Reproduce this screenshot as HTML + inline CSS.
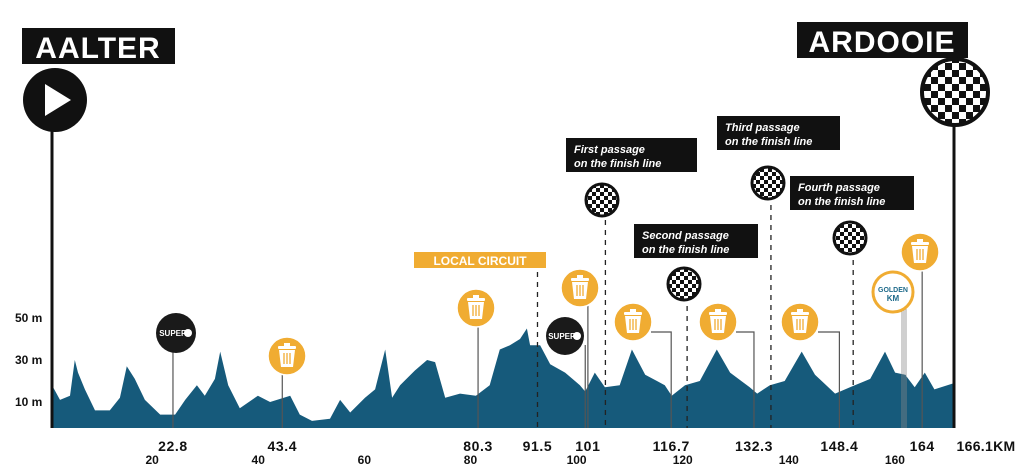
<!DOCTYPE html>
<html><head><meta charset="utf-8"><style>
body{margin:0;background:#fff;}
svg{display:block;font-family:"Liberation Sans",Arial,sans-serif;}
</style></head><body>
<svg id="c" width="1024" height="470" viewBox="0 0 1024 470">
<defs>
<pattern id="chk" width="8" height="8" patternUnits="userSpaceOnUse"><rect width="8" height="8" fill="#fff"/><rect width="4" height="4" fill="#111"/><rect x="4" y="4" width="4" height="4" fill="#111"/></pattern>
<pattern id="chk2" width="14" height="14" patternUnits="userSpaceOnUse"><rect width="14" height="14" fill="#fff"/><rect width="7" height="7" fill="#111"/><rect x="7" y="7" width="7" height="7" fill="#111"/></pattern>
</defs>
<g id="profile"></g>
<g id="marks"></g>
</svg>
<script>
const kms=[0,1.5,3.4,4.3,4.9,6.2,8.1,10.9,12.8,14.1,15.6,17.5,20.4,23.2,25.1,27.3,28.8,30.7,31.7,33.2,35.4,38.8,41.1,44.9,46.7,49,52.4,54.3,56.2,59,60.9,62.8,64.1,65.6,68.4,70.7,72.2,74.1,76.9,79.9,82.5,84.4,86.3,88.2,89.5,90.1,92,93.9,96.7,99.5,100.5,102.3,104.2,107,109.3,111.8,115.5,116.8,119.3,122.1,125.3,127.8,131.5,132.9,135.3,138.1,141.3,143.8,147.6,150.4,154.2,157,158.9,160.8,162.6,164.5,166.3,170];
const elev=[18,11,13,30,24,16,6,6,12,27,21,11,4,4,11,18,13,21,34,18,7,13,10,13,4,1,2,11,5,12,16,35,12,18,25,30,29,12,14,13,18,35,37,40,45,37,37,28,24,18,15,24,17,18,35,23,18,13,18,20,35,24,17,14,18,20,34,23,14,17,21,34,24,23,17,24,16,19];
const xTicks=[20,40,60,80,100,120,140,160];
const kmLabels=[22.8,43.4,80.3,91.5,101,116.7,132.3,148.4,164];
const yTicks=[10,30,50];
const NS="http://www.w3.org/2000/svg";
const X=k=>52+k*(902/170);
const Y=m=>423-2.1*m;
const BASE=428;
function el(t,a,p){const e=document.createElementNS(NS,t);for(const k in a)e.setAttribute(k,a[k]);(p||document.getElementById('marks')).appendChild(e);return e;}
let d=`M${X(kms[0])},${BASE}`;
kms.forEach((k,i)=>{d+=`L${X(k).toFixed(1)},${Y(elev[i]).toFixed(1)}`;});
d+=`L${X(kms[kms.length-1])},${BASE}Z`;
const area=el('path',{d:d,fill:'#165a7b'},document.getElementById('profile'));


yTicks.forEach(v=>{const t=el('text',{x:15,y:Y(v)+4,'font-size':12,'font-weight':'bold',fill:'#111'});t.textContent=v+' m';

});
xTicks.forEach(v=>{const t=el('text',{x:X(v)-6,y:464,'font-size':12,'font-weight':'bold','text-anchor':'middle',fill:'#111'});t.textContent=v;

});
kmLabels.forEach(v=>{const t=el('text',{x:X(v),y:451,'font-size':14,'font-weight':'900','text-anchor':'middle','letter-spacing':0.6,fill:'#111'});t.textContent=v;

});
const endT=el('text',{x:986,y:451,'font-size':14,'font-weight':'900','text-anchor':'middle','letter-spacing':0.3,fill:'#111'});endT.textContent='166.1KM';


[[91.5,262],[104.3,210],[119.7,296],[135.5,195],[151,250]].forEach(([k,top])=>{const l=el('line',{x1:X(k),x2:X(k),y1:top,y2:BASE,stroke:'#222','stroke-width':1.3,'stroke-dasharray':'5,5'});

});
function pole(x,top,w,c){const l=el('line',{x1:x,x2:x,y1:top,y2:BASE,stroke:c||'#555','stroke-width':w||1.2});

}
pole(X(22.8),350);pole(X(43.4),360);pole(X(80.3),315);pole(X(101),300);pole(X(100.5),345);
pole(902,305,0.8,'#888');pole(904,305,0.8,'#888');pole(906,305,0.8,'#888');pole(X(164),260);
function elbow(cx,cy,k){const p=el('path',{d:`M${cx+18},${cy+10}H${X(k)}V${BASE}`,fill:'none',stroke:'#555','stroke-width':1.2});

}
elbow(633,322,116.7);elbow(718,322,132.3);elbow(800,322,148.4);
pole(52,110,3,'#111');pole(954,110,3,'#111');
function trash(cx,cy){const g=el('g',{});


el('circle',{cx:cx,cy:cy,r:19,fill:'#f0ac32',stroke:'#fff','stroke-width':1.5},g);
el('rect',{x:cx-9,y:cy-10,width:18,height:3,fill:'#fff',rx:1},g);
el('rect',{x:cx-3,y:cy-13,width:6,height:3,fill:'#fff'},g);
el('path',{d:`M${cx-8},${cy-6}L${cx-6},${cy+11}H${cx+6}L${cx+8},${cy-6}Z`,fill:'#fff'},g);
[-3,0,3].forEach(o=>el('line',{x1:cx+o,x2:cx+o,y1:cy-3,y2:cy+8,stroke:'#f0ac32','stroke-width':1.3},g));}
trash(287,356);trash(476,308);trash(580,288);trash(633,322);trash(718,322);trash(800,322);trash(920,252);
function super8(cx,cy,r){const g=el('g',{});


el('circle',{cx:cx,cy:cy,r:r,fill:'#1a1a1a'},g);
const t=el('text',{x:cx-3,y:cy+3,'font-size':8,'font-weight':'900','text-anchor':'middle',fill:'#fff'},g);t.textContent='SUPER';
el('circle',{cx:cx+12,cy:cy,r:4,fill:'#fff'},g);}
super8(176,333,20);super8(565,336,19);
const gk=el('g',{});


el('circle',{cx:893,cy:292,r:20,fill:'#fff',stroke:'#f0ac32','stroke-width':3},gk);
let t1=el('text',{x:893,y:292,'font-size':7,'font-weight':'bold','text-anchor':'middle',fill:'#1e6a8a'},gk);t1.textContent='GOLDEN';
let t2=el('text',{x:893,y:301,'font-size':8,'font-weight':'bold','text-anchor':'middle',fill:'#1e6a8a'},gk);t2.textContent='KM';
[[602,200],[684,284],[768,183],[850,238]].forEach(([x,y])=>{const c=el('circle',{cx:x,cy:y,r:16,fill:'url(#chk)',stroke:'#111','stroke-width':3});

});
function lab(x,y,w,l1,l2,name){const g=el('g',{});


el('rect',{x:x,y:y,width:w,height:34,fill:'#111'},g);
const a=el('text',{x:x+8,y:y+15,'font-size':11,'font-weight':'bold','font-style':'italic',fill:'#fff'},g);a.textContent=l1;
const b=el('text',{x:x+8,y:y+29,'font-size':11,'font-weight':'bold','font-style':'italic',fill:'#fff'},g);b.textContent=l2;}
lab(566,138,131,'First passage','on the finish line','first-passage-label');
lab(634,224,124,'Second passage','on the finish line','second-passage-label');
lab(717,116,123,'Third passage','on the finish line','third-passage-label');
lab(790,176,124,'Fourth passage','on the finish line','fourth-passage-label');
const lc=el('g',{});


el('rect',{x:414,y:252,width:132,height:16,fill:'#f0ac32'},lc);
const lct=el('text',{x:480,y:265,'font-size':12,'font-weight':'900','text-anchor':'middle',fill:'#fff'},lc);lct.textContent='LOCAL CIRCUIT';
const st=el('g',{});


el('rect',{x:22,y:28,width:153,height:36,fill:'#111'},st);
const stt=el('text',{x:98,y:58,'font-size':30,'font-weight':'900','text-anchor':'middle','letter-spacing':1,fill:'#fff'},st);stt.textContent='AALTER';
el('circle',{cx:55,cy:100,r:32,fill:'#111'},st);
el('path',{d:'M45,84L71,100L45,116Z',fill:'#fff'},st);
const fi=el('g',{});


el('rect',{x:797,y:22,width:171,height:36,fill:'#111'},fi);
const fit=el('text',{x:882,y:52,'font-size':30,'font-weight':'900','text-anchor':'middle','letter-spacing':1,fill:'#fff'},fi);fit.textContent='ARDOOIE';
el('circle',{cx:955,cy:92,r:33,fill:'url(#chk2)',stroke:'#111','stroke-width':4},fi);
</script>
</body></html>
